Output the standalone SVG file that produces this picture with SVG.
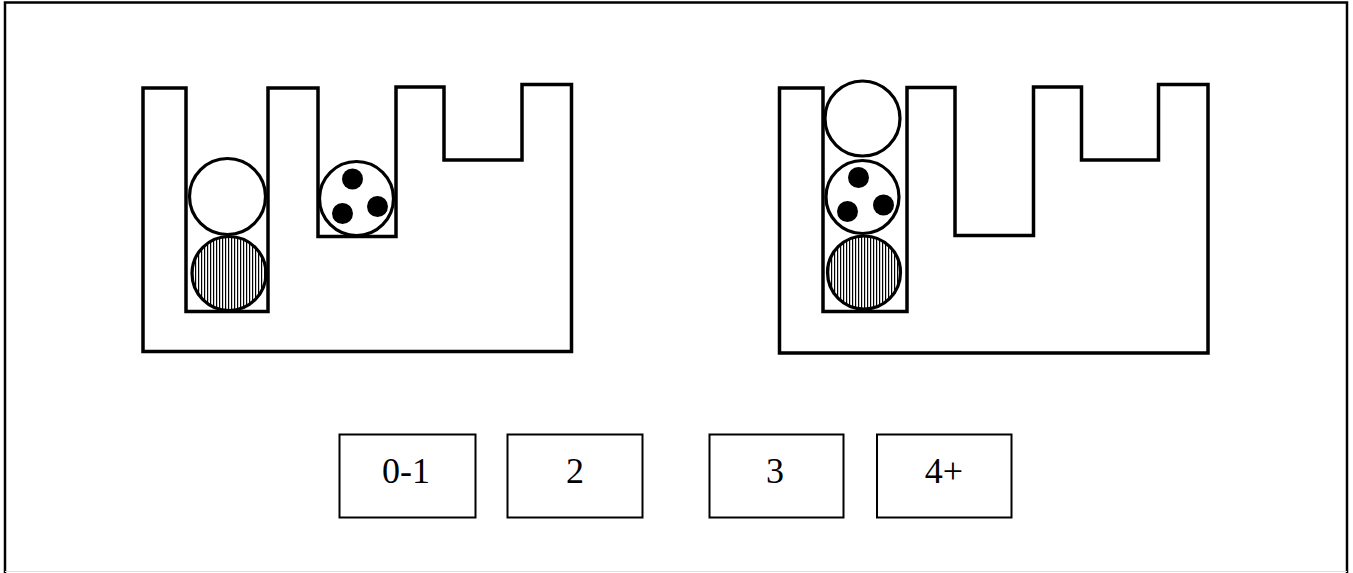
<svg xmlns="http://www.w3.org/2000/svg" width="1353" height="573" viewBox="0 0 1353 573">
<style>
.wall{fill:none;stroke:#000;stroke-width:3.5;stroke-linejoin:miter;stroke-linecap:square}
.ball{stroke:#000;stroke-width:3.2}
.white{fill:#fff}
.hatch{fill:url(#vh)}
.dot{fill:#000}
.box{fill:#fff;stroke:#000;stroke-width:2}
.lbl{font-family:"Liberation Serif","Times New Roman",serif;font-size:36px;fill:#000;text-anchor:middle}
</style>
<defs>
<pattern id="vh" width="3" height="10" patternUnits="userSpaceOnUse">
<rect width="3" height="10" fill="#fff"/>
<rect width="1.2" height="10" fill="#000"/>
</pattern>
</defs>
<rect x="0" y="0" width="1353" height="573" fill="#fff"/>
<g id="frame">
<path d="M5,573 V2.5 H1347 V573" fill="none" stroke="#000" stroke-width="2.5"/>
<line x1="5" y1="571.5" x2="1347" y2="571.5" stroke="#e0e0e0" stroke-width="1"/>
</g>
<g id="container-left">
<path class="wall" d="M143,88 H186 V311.5 H268 V88 H318 V236.5 H396 V87 H444 V160 H522 V84.5 H571.5 V351.5 H143 Z"/>
<circle class="ball white" cx="227.5" cy="196.5" r="38"/>
<circle class="ball hatch" cx="229" cy="273.5" r="37"/>
<circle class="ball white" cx="356.5" cy="198.5" r="37"/>
<circle class="dot" cx="352.5" cy="179" r="10.5"/>
<circle class="dot" cx="342.5" cy="213.5" r="10.5"/>
<circle class="dot" cx="377.5" cy="206.5" r="10.5"/>
</g>
<g id="container-right">
<path class="wall" d="M779.5,88 H823 V311.5 H907 V87.5 H955 V235.5 H1033.5 V87 H1081.5 V160 H1158.5 V84.5 H1208 V353 H779.5 Z"/>
<circle class="ball white" cx="862.5" cy="118.5" r="37.5"/>
<circle class="ball white" cx="862.5" cy="197" r="36.5"/>
<circle class="dot" cx="858.5" cy="177.5" r="10.5"/>
<circle class="dot" cx="847.5" cy="211.5" r="10.5"/>
<circle class="dot" cx="883.5" cy="205" r="10.5"/>
<circle class="ball hatch" cx="864" cy="272.5" r="36.5"/>
</g>
<g id="box-0-1">
<rect class="box" x="339.5" y="434.5" width="136" height="83"/>
<text class="lbl" x="406" y="483">0-1</text>
</g>
<g id="box-2">
<rect class="box" x="507.5" y="434.5" width="135" height="83"/>
<text class="lbl" x="575" y="483">2</text>
</g>
<g id="box-3">
<rect class="box" x="709.5" y="434.5" width="134" height="83"/>
<text class="lbl" x="775" y="483">3</text>
</g>
<g id="box-4plus">
<rect class="box" x="877" y="434.5" width="134.5" height="83"/>
<text class="lbl" x="944" y="483">4+</text>
</g>
</svg>
